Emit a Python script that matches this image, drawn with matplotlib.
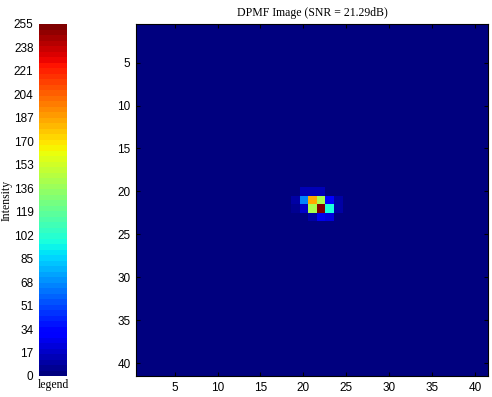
import numpy as np
import matplotlib
matplotlib.use('Agg')
import matplotlib.pyplot as plt

# image data (41x41, intensity 0..255)
n_pix = 41
background = 3
# (row, col, value) for pixels that differ from background, 1-based
blob_rows = [20, 20, 20, 21, 21, 21, 21, 21, 21, 22, 22, 22, 22, 22, 22, 23, 23, 23]
blob_cols = [20, 21, 22, 19, 20, 21, 22, 23, 24, 19, 20, 21, 22, 23, 24, 21, 22, 23]
blob_vals = [12, 14, 12, 8, 64, 185, 140, 28, 8, 7, 18, 142, 255, 98, 8, 8, 24, 22]

cbar_ticks = list(range(0, 256, 17))
x_ticks = [5, 10, 15, 20, 25, 30, 35, 40]
y_ticks = [5, 10, 15, 20, 25, 30, 35, 40]
title = 'DPMF Image (SNR = 21.29dB)'

img = np.full((n_pix, n_pix), background, dtype=float)
for r, c, v in zip(blob_rows, blob_cols, blob_vals):
    img[r - 1, c - 1] = v

cmap = plt.get_cmap('jet', 64)
serif = 'Liberation Serif'
sans = 'Liberation Sans'

fig = plt.figure(figsize=(4.92, 3.97), dpi=100)

W, H = 492.0, 397.0
ax = fig.add_axes([136 / W, (H - 376) / H, 352 / W, 352 / H])
ax.imshow(img, cmap=cmap, vmin=0, vmax=255, interpolation='nearest',
          extent=[0.5, n_pix + 0.5, n_pix + 0.5, 0.5], aspect='auto')
ax.set_xticks(x_ticks)
ax.set_yticks(y_ticks)
ax.tick_params(direction='in', length=3, width=0.8, top=True, right=True,
               labelsize=8.5, pad=4, color='black')
for lab in ax.get_xticklabels() + ax.get_yticklabels():
    lab.set_fontfamily(sans)
ax.set_title(title, fontsize=8.5, family=serif, pad=6)
for s in ax.spines.values():
    s.set_linewidth(0.8)

# colour legend bar
cax = fig.add_axes([39 / W, (H - 376) / H, 28 / W, 352 / H])
grad = np.linspace(0, 255, 64).reshape(-1, 1)
cax.imshow(grad, cmap=cmap, vmin=0, vmax=255, origin='lower',
           extent=[0, 1, 0, 255], aspect='auto', interpolation='nearest')
cax.set_xticks([])
cax.set_yticks(cbar_ticks)
cax.tick_params(length=0, labelsize=8.5, pad=4)
for lab in cax.get_yticklabels():
    lab.set_fontfamily(sans)
cax.set_xlabel('legend', family=serif, fontsize=8.5, labelpad=2)
cax.set_ylabel('Intensity', family=serif, fontsize=8.5, labelpad=1)
for s in cax.spines.values():
    s.set_visible(False)

fig.savefig('out.png', dpi=100)
